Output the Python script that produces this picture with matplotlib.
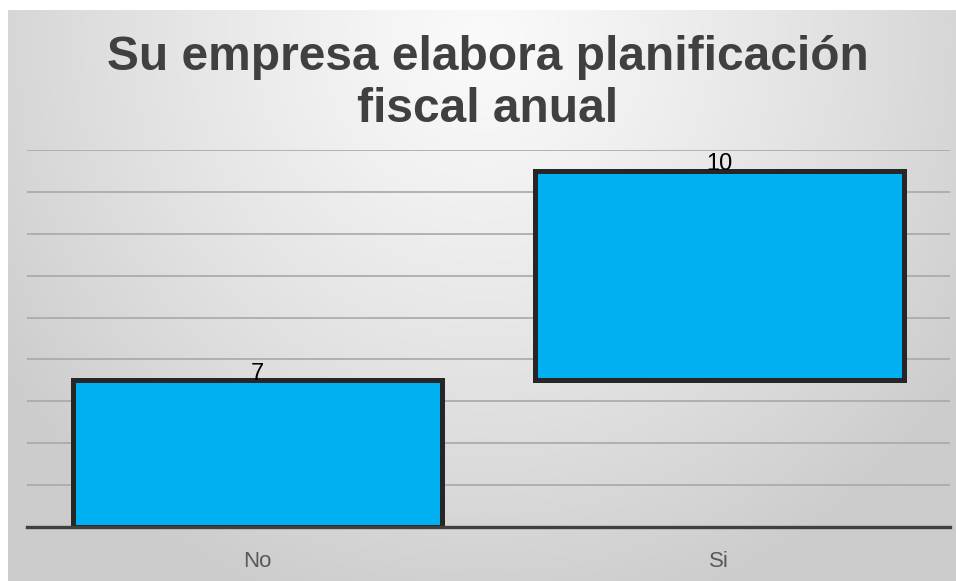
import numpy as np
import matplotlib
matplotlib.use("Agg")
import matplotlib.pyplot as plt

categories = ["No", "Si"]
values = [7, 10]
title = "Su empresa elabora planificación\nfiscal anual"

bottoms = np.concatenate([[0], np.cumsum(values)[:-1]])
tops = bottoms + np.array(values)

W, H = 956, 581
fig = plt.figure(figsize=(W / 100, H / 100), dpi=100)
fig.patch.set_facecolor("white")

# gradient background panel
bg = fig.add_axes([8 / W, 0, 1 - 8 / W, (H - 10) / H], zorder=-10)
ny, nx = 300, 500
yy, xx = np.mgrid[0:ny, 0:nx]
cx, cy = nx * 0.5, ny * 0.05
d = np.sqrt(((xx - cx) / (nx * 0.62)) ** 2 + ((yy - cy) / (ny * 1.05)) ** 2)
d = np.clip(d, 0, 1)
light = np.array([0.98, 0.98, 0.98])
dark = np.array([0.8, 0.8, 0.8])
img = light[None, None, :] * (1 - d[..., None] ** 1.2) + dark[None, None, :] * (d[..., None] ** 1.2)
bg.imshow(img, aspect="auto", extent=[0, 1, 0, 1], origin="upper")
bg.set_axis_off()

ax = fig.add_axes([27 / W, (H - 527) / H, (950 - 27) / W, (527 - 150) / H])
ax.set_facecolor("none")
x = np.arange(len(categories))
ax.bar(x, values, bottom=bottoms, width=0.8, color="#00B0F0",
       edgecolor="#262626", linewidth=3.6, zorder=3)
ax.set_xlim(-0.5, len(categories) - 0.5)
ax.set_ylim(0, 18)
ax.set_yticks(np.arange(2, 19, 2))
ax.yaxis.grid(True, color="#a8a8a8", linewidth=1.2, zorder=0)
ax.set_axisbelow(True)
ax.tick_params(axis="y", left=False, labelleft=False)
ax.tick_params(axis="x", bottom=False, pad=14, labelsize=16, labelcolor="#595959")
ax.set_xticks(x)
ax.set_xticklabels(categories)
for s in ["top", "left", "right"]:
    ax.spines[s].set_visible(False)
ax.spines["bottom"].set_color("#404040")
ax.spines["bottom"].set_linewidth(2.4)
ax.spines["bottom"].set_zorder(4)

for xi, t, v in zip(x, tops, values):
    ax.annotate(str(v), (xi, t), xytext=(0, -3), textcoords="offset points",
                ha="center", va="bottom", fontsize=17, color="black",
                family="Liberation Sans", zorder=5)

for lab in ax.get_xticklabels():
    lab.set_family("Liberation Sans")

fig.text(488 / W, (H - 83) / H, title, ha="center", va="center",
         fontsize=34.5, fontweight="bold", color="#404040",
         family="Liberation Sans", linespacing=1.2)

fig.savefig("out.png", dpi=100)
